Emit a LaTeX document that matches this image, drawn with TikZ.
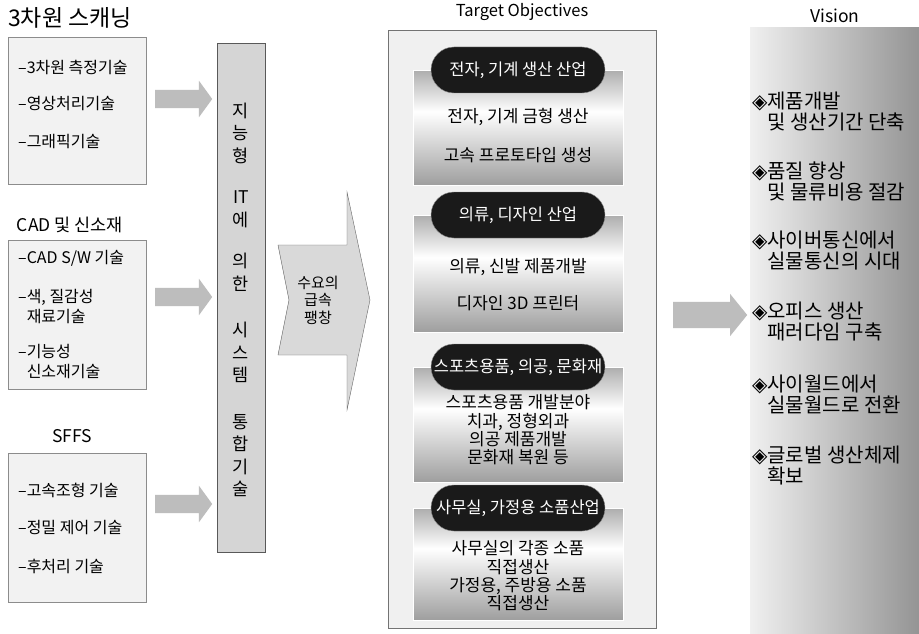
\documentclass[tikz,border=0pt]{standalone}
\usepackage{fontspec}
\setmainfont{Noto Sans CJK KR}
\newfontfamily\symfont{DejaVu Sans}
\usetikzlibrary{positioning,shapes.arrows}
\definecolor{boxgray}{HTML}{F2F2F2}
\definecolor{linegray}{HTML}{8C8C8C}
\definecolor{arrgray}{HTML}{BDBDBD}
\definecolor{bargray}{HTML}{D5D5D5}
\definecolor{pillgray}{HTML}{1A1A1A}
\pgfdeclareverticalshading{panelshade}{100bp}{color(0bp)=(black!38); color(25bp)=(black!38); color(57bp)=(white); color(75bp)=(black!32); color(100bp)=(black!32)}
\newcommand{\vismark}{{\symfont\char"25C8}}

\begin{document}
\begin{tikzpicture}[x=1pt,y=-1pt,src/.style={draw=linegray,fill=boxgray,minimum width=138pt,minimum height=147pt,anchor=north west,inner sep=0pt},item/.style={anchor=west,align=left,inner sep=0pt,font=\fontsize{16}{20}\selectfont},hd/.style={inner sep=0pt,font=\fontsize{17.5}{20}\selectfont},flow/.style={single arrow,fill=arrgray,draw=none,anchor=west,inner xsep=0pt,inner ysep=9pt,minimum height=57pt,single arrow head extend=9pt,single arrow tip angle=108},panel/.style={draw=white,shade,shading=panelshade,minimum width=210pt,anchor=north,inner sep=0pt},pill/.style={fill=pillgray,draw=linegray,rounded corners=23pt,minimum width=174pt,minimum height=46pt,inner sep=0pt,text=white,font=\fontsize{16.5}{19}\selectfont},body/.style={align=center,inner sep=0pt,font=\fontsize{17}{18.3}\selectfont},vis/.style={anchor=west,align=left,inner sep=0pt,font=\fontsize{20}{21.5}\selectfont}]
\useasboundingbox[fill=white] (0,0) rectangle (919,634);
% sources
\node[hd,font=\fontsize{23}{25}\selectfont] (scanhd) at (70,18) {3차원 스캐닝};
\node[src] (scan) at (8,37) {};
\node[item] (scan1) at (18,67) {–3차원 측정기술};
\node[item] (scan2) at (18,104) {–영상처리기술};
\node[item] (scan3) at (18,142) {–그래픽기술};
\node[hd] (cadhd) at (70,225) {CAD 및 신소재};
\node[src,minimum height=149pt] (cad) at (8,240) {};
\node[item] (cad1) at (18,258) {–CAD S/W 기술};
\node[item] (cad2) at (18,307) {–색, 질감성\\\phantom{–}재료기술};
\node[item] (cad3) at (18,362) {–기능성\\\phantom{–}신소재기술};
\node[hd] (sffshd) at (72,436) {SFFS};
\node[src,minimum height=149pt] (sffs) at (8,453) {};
\node[item] (sffs1) at (18,490) {–고속조형 기술};
\node[item] (sffs2) at (18,528) {–정밀 제어 기술};
\node[item] (sffs3) at (18,566) {–후처리 기술};
\node[flow] (flowa) at (155,99) {};
\node[flow] (flowb) at (155,297) {};
\node[flow] (flowc) at (155,504) {};
% integration bar
\node[draw=black!65,fill=bargray,minimum width=48pt,minimum height=509pt,anchor=north west,inner sep=0pt] (bar) at (217,43) {};
\node[align=center,inner sep=0pt,font=\fontsize{17.5}{22.5}\selectfont] (bartxt) at (241,300) {지\\능\\형\\[19pt]IT\\에\\[19pt]의\\한\\[24pt]시\\스\\템\\[24pt]통\\합\\기\\술};
% demand
\draw[draw=black!60,fill=black!15] (278,245) -- (347,245) -- (347,192) -- (370,300) -- (347,410) -- (347,355) -- (278,355) -- (289,300) -- cycle;
\node[body,font=\fontsize{15}{17.5}\selectfont] (demand) at (318,300) {수요의\\급속\\팽창};
% target objectives
\node[hd,font=\fontsize{16.5}{19}\selectfont] (tgthd) at (522,12) {Target Objectives};
\node[draw=black!55,fill=black!6,minimum width=268pt,minimum height=598pt,anchor=north west,inner sep=0pt] (target) at (388,30) {};
\node[panel,minimum height=115pt] (p1) at (518,70) {};
\node[panel,minimum height=117pt] (p2) at (518,215) {};
\node[panel,minimum height=115pt] (p3) at (518,367) {};
\node[panel,minimum height=112pt] (p4) at (518,508) {};
\node[pill] (pill1) at (p1.north) {전자, 기계 생산 산업};
\node[pill] (pill2) at (p2.north) {의류, 디자인 산업};
\node[pill] (pill3) at (p3.north) {스포츠용품, 의공, 문화재};
\node[pill] (pill4) at (p4.north) {사무실, 가정용 소품산업};
\node[body] (p1a) at (518,117) {전자, 기계 금형 생산};
\node[body] (p1b) at (518,155) {고속 프로토타입 생성};
\node[body] (p2a) at (518,267) {의류, 신발 제품개발};
\node[body] (p2b) at (518,303) {디자인 3D 프린터};
\node[body] (p3a) at (518,430) {스포츠용품 개발분야\\치과, 정형외과\\의공 제품개발\\문화재 복원 등};
\node[body] (p4a) at (518,576) {사무실의 각종 소품\\직접생산\\가정용, 주방용 소품\\직접생산};
\node[flow,minimum height=74pt,inner ysep=13pt,single arrow head extend=8pt,single arrow tip angle=102] (flowd) at (673,315) {};
% vision
\node[hd,font=\fontsize{17.5}{20}\selectfont] (vishd) at (835,16) {Vision};
\node[left color=black!6,right color=black!42,draw=none,minimum width=169pt,minimum height=607pt,anchor=north west,inner sep=0pt] (vision) at (750,27) {};
\node[vis] (v1) at (752,112) {\vismark{}제품개발\\\phantom{\vismark}및 생산기간 단축};
\node[vis] (v2) at (752,182) {\vismark{}품질 향상\\\phantom{\vismark}및 물류비용 절감};
\node[vis] (v3) at (752,251) {\vismark{}사이버통신에서\\\phantom{\vismark}실물통신의 시대};
\node[vis] (v4) at (752,322) {\vismark{}오피스 생산\\\phantom{\vismark}패러다임 구축};
\node[vis] (v5) at (752,395) {\vismark{}사이월드에서\\\phantom{\vismark}실물월드로 전환};
\node[vis] (v6) at (752,466) {\vismark{}글로벌 생산체제\\\phantom{\vismark}확보};
\end{tikzpicture}
\end{document}
